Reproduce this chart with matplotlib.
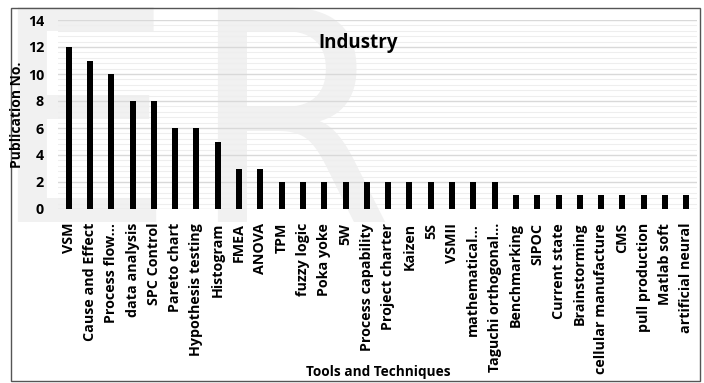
import matplotlib
matplotlib.use("Agg")
import matplotlib.pyplot as plt
from matplotlib.patches import Rectangle
from matplotlib.ticker import MultipleLocator

plt.rcParams['font.family'] = ['Open Sans', 'DejaVu Sans']

tools = ["VSM", "Cause and Effect", "Process flow...", "data analysis", "SPC Control",
         "Pareto chart", "Hypothesis testing", "Histogram", "FMEA", "ANOVA", "TPM",
         "fuzzy logic", "Poka yoke", "5W", "Process capability", "Project charter",
         "Kaizen", "5S", "VSMII", "mathematical...", "Taguchi orthogonal...",
         "Benchmarking", "SIPOC", "Current state", "Brainstorming",
         "cellular manufacture", "CMS", "pull production", "Matlab soft",
         "artificial neural"]
publications = [12, 11, 10, 8, 8, 6, 6, 5, 3, 3, 2, 2, 2, 2, 2, 2, 2, 2, 2, 2, 2,
                1, 1, 1, 1, 1, 1, 1, 1, 1]

W, H = 704, 383
fig = plt.figure(figsize=(W / 100, H / 100), dpi=100)

# faint watermark letters behind the chart
fig.text(-12 / W, 1 - 222 / H, "E", fontsize=212, color="#f1f1f1",
         family="DejaVu Sans", zorder=-5)
fig.text(188 / W, 1 - 222 / H, "R", fontsize=212, color="#f1f1f1",
         family="DejaVu Sans", zorder=-5)

# outer frame
fig.patches.append(Rectangle((11 / W, 2 / H), 689 / W, 373 / H,
                             transform=fig.transFigure, fill=False,
                             edgecolor="#555555", linewidth=1.0))

ax = fig.add_axes([58 / W, 1 - 209 / H, 639 / W, 189 / H], zorder=2)
ax.patch.set_alpha(0)

x = range(len(tools))
ax.bar(x, publications, width=0.28, color="black", zorder=3)

ax.set_xlim(-0.5, len(tools) - 0.5)
ax.set_ylim(0, 14)
ax.yaxis.set_major_locator(MultipleLocator(2))
ax.yaxis.set_minor_locator(MultipleLocator(0.4))
ax.grid(axis="y", which="major", color="#d9d9d9", linewidth=1.0, zorder=1)
ax.grid(axis="y", which="minor", color="#eeeeee", linewidth=0.8, zorder=1)
for s in ax.spines.values():
    s.set_visible(False)
ax.tick_params(axis="both", which="both", length=0)

ax.set_xticks(list(x))
ax.set_xticklabels(tools, rotation=90, fontsize=10.3, fontweight="bold")
for lab in ax.get_yticklabels():
    lab.set_fontweight("bold")
ax.tick_params(axis="y", labelsize=10.3, pad=10)
ax.tick_params(axis="x", pad=10)

ax.set_ylabel("Publication No.", fontsize=10, fontweight="bold")
ax.yaxis.set_label_coords(-34 / 639, 0.5)
fig.text(378 / W, 1 - 372 / H, "Tools and Techniques", fontsize=9.8,
         fontweight="bold", ha="center", va="center")
ax.text(0.47, 0.88, "Industry", transform=ax.transAxes, fontsize=13.5,
        fontweight="bold", ha="center", va="center")

fig.savefig("out.png", dpi=100)
